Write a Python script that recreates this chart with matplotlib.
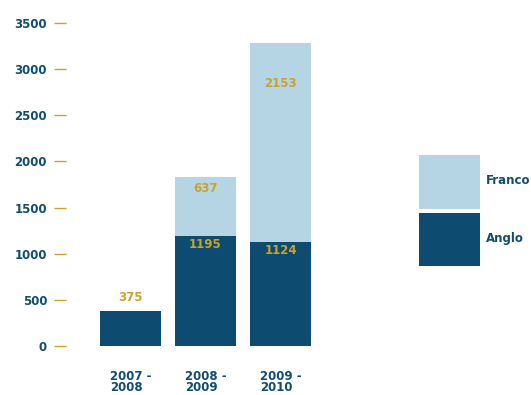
import numpy as np
import matplotlib
matplotlib.use("Agg")
import matplotlib.pyplot as plt

# chart data
periods = ["2007 -\n2008", "2008 -\n2009", "2009 -\n2010"]
anglo = [375, 1195, 1124]
franco = [0, 637, 2153]
y_ticks = [0, 500, 1000, 1500, 2000, 2500, 3000, 3500]

dark_blue = "#0d4b70"
light_blue = "#b6d5e4"
gold = "#c9a32b"
text_col = "#114d6d"

plt.rcParams["font.family"] = ["DejaVu Sans"]
plt.rcParams["font.weight"] = "bold"
fs = 8.5

fig = plt.figure(figsize=(5.31, 3.95), dpi=100)
ax = fig.add_axes([0.1243, 0.124, 0.5157, 0.818])

x = np.arange(len(periods))
w = 0.81
b_anglo = ax.bar(x, anglo, width=w, color=dark_blue, label="Anglo")
b_franco = ax.bar(x, franco, width=w, bottom=anglo, color=light_blue, label="Franco")

# value labels
for i in range(len(x)):
    if franco[i] == 0:
        ax.annotate(str(anglo[i]), (x[i], anglo[i]), xytext=(0, 10), textcoords="offset points",
                    ha="center", va="center", color=gold, fontsize=fs, fontweight="bold")
    else:
        ax.text(x[i], anglo[i] * 0.92, str(anglo[i]), ha="center", va="center",
                color=gold, fontsize=fs, fontweight="bold")
        ax.text(x[i], anglo[i] + franco[i] * 0.8, str(franco[i]), ha="center", va="center",
                color=gold, fontsize=fs, fontweight="bold")

ax.set_ylim(0, 3500)
ax.set_xlim(-0.86, 2.79)
ax.set_yticks(y_ticks)
ax.set_xticks(x)
ax.set_xticklabels(periods, multialignment="left", linespacing=0.85)
ax.tick_params(axis="y", length=8.6, width=1, color=gold, pad=5, labelcolor=text_col, labelsize=fs)
ax.tick_params(axis="x", length=0, pad=17, labelcolor=text_col, labelsize=fs)
for s in ax.spines.values():
    s.set_visible(False)

fig.legend([b_franco, b_anglo], ["Franco", "Anglo"], loc="upper left",
           bbox_to_anchor=(419 / 531, 1 - 155 / 395), frameon=False, borderpad=0,
           borderaxespad=0, handlelength=5.2, handleheight=6.6, labelspacing=0.35,
           handletextpad=0.45, prop={"size": fs, "weight": "bold"}, labelcolor=text_col)

fig.savefig("out.png", dpi=100)
